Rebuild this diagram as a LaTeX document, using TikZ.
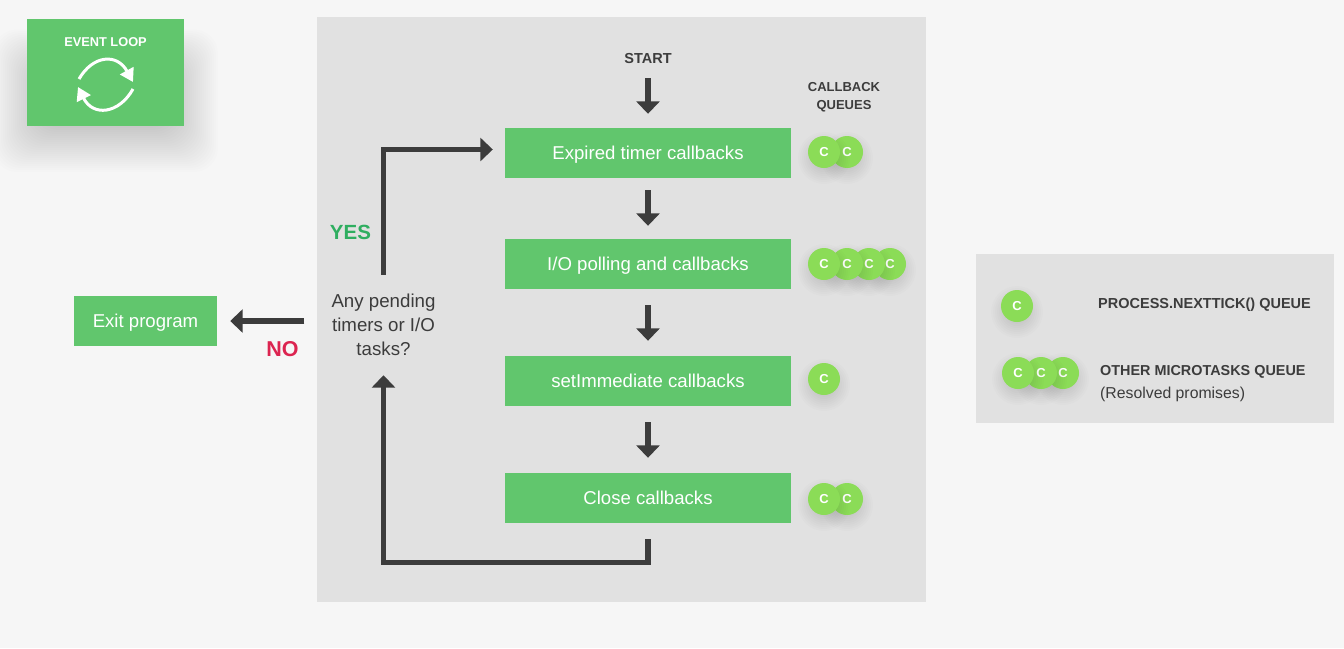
\documentclass[tikz,border=0pt]{standalone}
\usepackage{fontspec}
\setmainfont{Liberation Sans}
\usetikzlibrary{arrows.meta,calc}
\definecolor{pagebg}{HTML}{F6F6F6}
\definecolor{panel}{HTML}{E1E1E1}
\definecolor{boxgreen}{HTML}{61C66D}
\definecolor{badgegreen}{HTML}{8BDC57}
\definecolor{ink}{HTML}{3C3C3C}
\definecolor{yesgreen}{HTML}{2FAE60}
\definecolor{nored}{HTML}{DC2450}
\tikzset{
  flowbox/.style={fill=boxgreen,text=white,inner sep=0pt,text height=12.5pt,text depth=0pt,font=\fontsize{18.6}{22}\selectfont},
  badge/.style={circle,fill=badgegreen,text=white,minimum size=32pt,inner sep=0pt,font=\fontsize{13}{15}\selectfont\bfseries},
  flowarrow/.style={draw=ink,line width=5.5pt,-{Triangle[width=23pt,length=12.5pt]}},
  label/.style={text=ink,inner sep=0pt,align=center},
  heading/.style={label,font=\fontsize{14.5}{18}\selectfont\bfseries},
}
\newcommand{\qbadge}[3]{%
  \foreach \r in {6,8,...,26}{\fill[black,opacity=.012] (#2,#3+6) circle[radius=\r pt];}%
  \node[badge] (#1) at (#2,#3) {C};}
\begin{document}
\begin{tikzpicture}[x=1pt,y=-1pt]
\useasboundingbox (0,0) rectangle (1344,648);
\fill[pagebg] (0,0) rectangle (1344,648);
% event loop shadow
\foreach \d in {-20,-18,...,34}{\fill[black,opacity=.0065,rounded corners=24pt]
  (27-\d,60-0.9*\d) rectangle (184+\d,138+\d);}
% panels
\node[fill=panel,minimum width=609pt,minimum height=585pt,inner sep=0pt] (mainpanel) at (621.5,309.5) {};
\node[fill=panel,minimum width=358pt,minimum height=169pt,inner sep=0pt] (legendpanel) at (1155,338.5) {};
% event loop box
\node[fill=boxgreen,minimum width=157pt,minimum height=107pt,inner sep=0pt] (loopbox) at (105.5,72.5) {};
\node[text=white,inner sep=0pt,font=\fontsize{12.8}{16}\selectfont\bfseries] (looptitle) at (105.5,42.5) {EVENT LOOP};
\coordinate (la) at (79,79); \coordinate (lb) at (133,82);
\coordinate (lc) at (133,89); \coordinate (ld) at (78,87);
\draw[white,line width=3pt,-{Triangle[width=15pt,length=13pt]}] (la) .. controls (93,55) and (117,53) .. (lb);
\draw[white,line width=3pt,-{Triangle[width=15pt,length=13pt]}] (lc) .. controls (119,114) and (93,117) .. (ld);
% flow boxes
\node[flowbox,minimum width=286pt,minimum height=50pt] (expired) at (648,153) {Expired timer callbacks};
\node[flowbox,minimum width=286pt,minimum height=50pt] (iopoll) at (648,264) {I/O polling and callbacks};
\node[flowbox,minimum width=286pt,minimum height=50pt] (immediate) at (648,381) {setImmediate callbacks};
\node[flowbox,minimum width=286pt,minimum height=50pt] (closecb) at (648,498) {Close callbacks};
\node[flowbox,minimum width=143pt,minimum height=50pt] (exitprog) at (145.5,321) {Exit program};
% labels
\node[heading,minimum height=26pt] (startlabel) at (648,59) {START};
\node[heading,font=\fontsize{13}{18}\selectfont\bfseries] (cbq) at (844,97) {CALLBACK\\QUEUES};
\node[label,minimum width=110pt,minimum height=90pt,font=\fontsize{18.7}{24}\selectfont] (question) at (383.5,325) {Any pending\\timers or I/O\\tasks?};
\node[inner sep=0pt,text=yesgreen,font=\fontsize{20.5}{26}\selectfont\bfseries] (yes) at (350.5,232.5) {YES};
\node[inner sep=0pt,text=nored,font=\fontsize{21.5}{26}\selectfont\bfseries] (no) at (282.5,349) {NO};
% connectors
\draw[flowarrow,shorten <=6pt,shorten >=14pt] (startlabel.south) -- (expired.north);
\draw[flowarrow,shorten <=12pt,shorten >=13pt] (expired.south) -- (iopoll.north);
\draw[flowarrow,shorten <=16pt,shorten >=15pt] (iopoll.south) -- (immediate.north);
\draw[flowarrow,shorten <=16pt,shorten >=15pt] (immediate.south) -- (closecb.north);
\coordinate (loopcorner) at (648,562.5);
\draw[flowarrow,shorten <=16pt,shorten >=5pt] (closecb.south) -- (loopcorner) -| (question.south);
\coordinate (yescorner) at (383.5,149.5);
\draw[flowarrow,shorten <=5pt,shorten >=12pt] (question.north) -- (yescorner) -- (expired.west |- yescorner);
\draw[flowarrow,shorten <=24pt,shorten >=13pt] (question.west |- exitprog.east) -- (exitprog.east);
% badges
\qbadge{a2}{847}{152}\qbadge{a1}{824}{152}
\qbadge{b4}{890}{264}\qbadge{b3}{869}{264}\qbadge{b2}{847}{264}\qbadge{b1}{824}{264}
\qbadge{c1}{824}{379}
\qbadge{d2}{847}{499}\qbadge{d1}{824}{499}
\qbadge{e1}{1017}{306}
\qbadge{f3}{1063}{373}\qbadge{f2}{1041}{373}\qbadge{f1}{1018}{373}
% legend text
\node[text=ink,inner sep=0pt,anchor=west,font=\fontsize{14.5}{18}\selectfont\bfseries] (legone) at (1098,304.5) {PROCESS.NEXTTICK() QUEUE};
\node[text=ink,inner sep=0pt,anchor=west,font=\fontsize{14.4}{18}\selectfont\bfseries] (legtwo) at (1100,372) {OTHER MICROTASKS QUEUE};
\node[text=ink,inner sep=0pt,anchor=west,font=\fontsize{15.8}{18}\selectfont] (legthree) at (1100,394.5) {(Resolved promises)};
\end{tikzpicture}
\end{document}
